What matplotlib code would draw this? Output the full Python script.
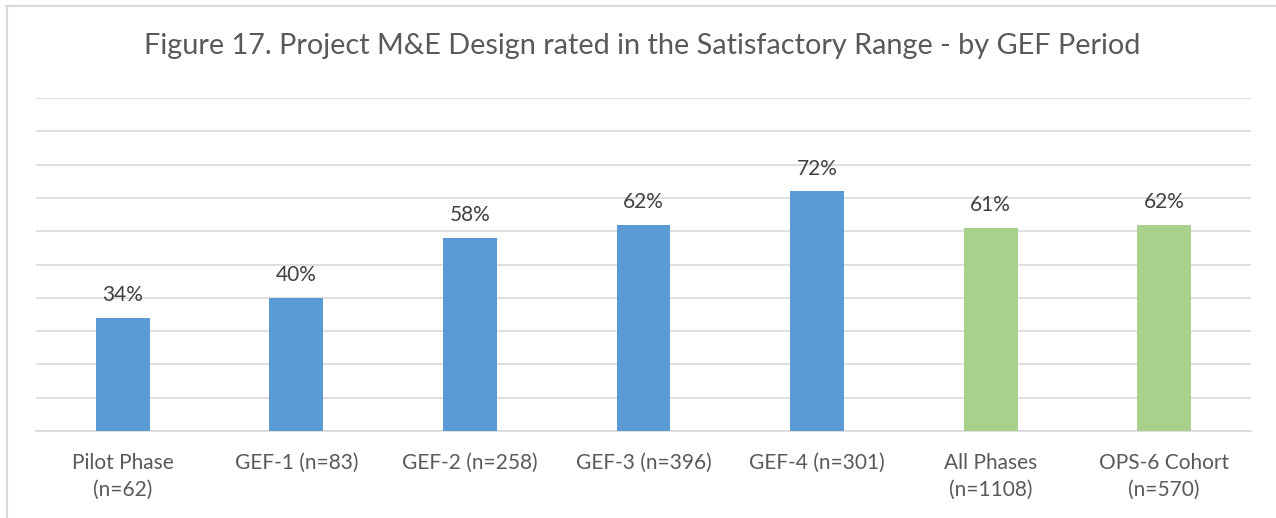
import matplotlib
matplotlib.use("Agg")
import matplotlib.pyplot as plt
from matplotlib.lines import Line2D

categories = ["Pilot Phase\n(n=62)", "GEF-1 (n=83)", "GEF-2 (n=258)", "GEF-3 (n=396)",
              "GEF-4 (n=301)", "All Phases\n(n=1108)", "OPS-6 Cohort\n(n=570)"]
values = [34, 40, 58, 62, 72, 61, 62]
labels = ["34%", "40%", "58%", "62%", "72%", "61%", "62%"]
colors = ["#5B9BD5"] * 5 + ["#A9D18E"] * 2

plt.rcParams['font.family'] = ['Lato', 'DejaVu Sans']
txt = "#595959"

fig = plt.figure(figsize=(12.76, 5.18), dpi=100)
ax = fig.add_axes([36/1276, 1 - 431/518, (1251-36)/1276, (431-98)/518])

x = list(range(len(categories)))
ax.bar(x, values, width=0.31, color=colors, zorder=3)
for xi, v, l in zip(x, values, labels):
    ax.text(xi, v + 3.8, l, ha="center", va="bottom", fontsize=15, color="#404040")

ax.set_xlim(-0.5, len(categories) - 0.5)
ax.set_ylim(0, 100)
ax.set_yticks(range(0, 101, 10))
ax.yaxis.grid(True, color="#d9d9d9", linewidth=1.2, zorder=0)
ax.tick_params(axis="y", left=False, labelleft=False)
ax.tick_params(axis="x", bottom=False, labelsize=15, labelcolor=txt, pad=12)
ax.set_xticks(x)
ax.set_xticklabels(categories, linespacing=1.45, va="top")
for s in ["top", "right", "left"]:
    ax.spines[s].set_visible(False)
ax.spines["bottom"].set_color("#d9d9d9")
ax.spines["bottom"].set_linewidth(1.2)

fig.text(642/1276, 1 - 46/518, "Figure 17. Project M&E Design rated in the Satisfactory Range - by GEF Period",
         ha="center", va="center", fontsize=20.8, color=txt)

# figure border (top and left)
fig.add_artist(Line2D([6/1276, 1], [1 - 5.5/518, 1 - 5.5/518], color="#d9d9d9", linewidth=1.5, transform=fig.transFigure))
fig.add_artist(Line2D([6.5/1276, 6.5/1276], [0, 1 - 5.5/518], color="#d9d9d9", linewidth=1.5, transform=fig.transFigure))

fig.savefig("out.png", dpi=100, facecolor="white")
